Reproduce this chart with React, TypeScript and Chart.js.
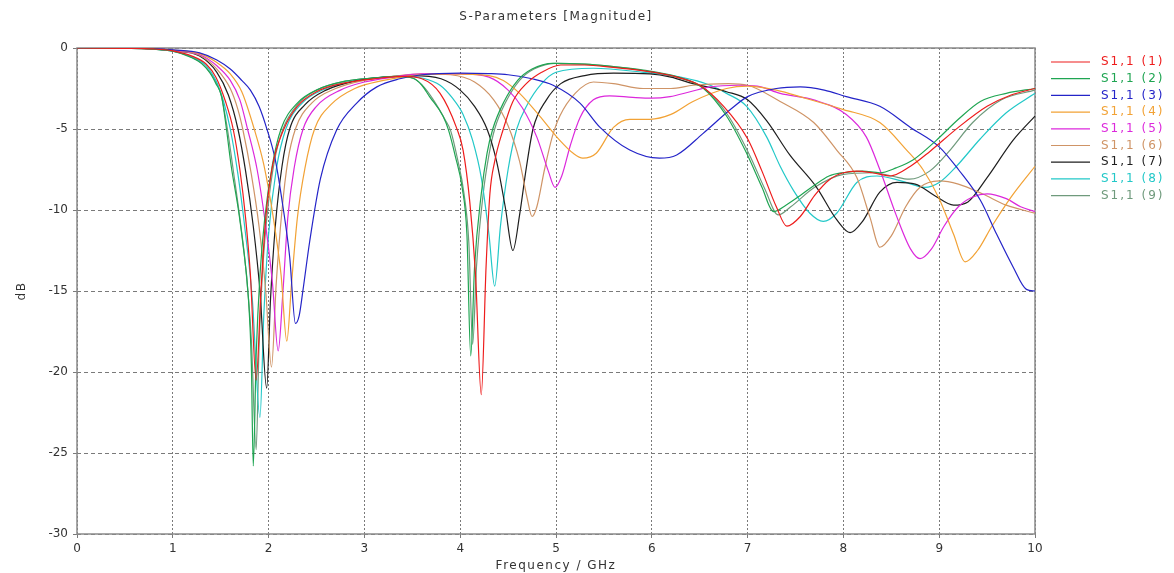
import React, { useEffect, useRef } from "react";
import { Chart, registerables } from "chart.js";

Chart.register(...registerables);

const TITLE = "S-Parameters [Magnitude]";
const X_TITLE = "Frequency / GHz";
const Y_TITLE = "dB";

const SERIES_LABELS = ["S1,1 (1)", "S1,1 (2)", "S1,1 (3)", "S1,1 (4)", "S1,1 (5)", "S1,1 (6)", "S1,1 (7)", "S1,1 (8)", "S1,1 (9)"];
const SERIES_COLORS = ["#ee1c1c", "#1fa552", "#2424c8", "#f2a235", "#dc28dc", "#cf9466", "#1e1e1e", "#22c8c8", "#6f9a7c"];

const FREQ_1 = [0, 0.5, 0.8, 1.0, 1.2, 1.35, 1.45, 1.55, 1.63, 1.7, 1.76, 1.81, 1.87, 1.92, 1.97, 2.04, 2.16, 2.3, 2.5, 2.8, 3.1, 3.4, 3.6, 3.79, 3.96, 4.03, 4.1, 4.16, 4.22, 4.27, 4.31, 4.36, 4.45, 4.55, 4.69, 4.85, 5.05, 5.3, 5.6, 5.9, 6.2, 6.5, 6.75, 7.0, 7.15, 7.3, 7.41, 7.55, 7.7, 7.86, 8.0, 8.14, 8.3, 8.49, 8.7, 8.9, 9.2, 9.5, 9.75, 10];
const DB_1 = [0, -0.02, -0.06, -0.18, -0.5, -1.0, -1.8, -3.3, -5.0, -7.5, -10.5, -14, -20.5, -15, -10.5, -7.3, -5.0, -3.6, -2.7, -2.15, -1.9, -1.75, -1.9, -2.8, -4.9, -6.3, -9.5, -14, -21.4, -13.5, -9.0, -7.0, -5.0, -3.3, -2.2, -1.5, -1.05, -1.05, -1.2, -1.4, -1.7, -2.3, -3.6, -5.6, -7.6, -9.8, -11.0, -10.4, -9.1, -8.1, -7.7, -7.6, -7.7, -7.9, -7.3, -6.4, -4.9, -3.6, -2.9, -2.5];

const FREQ_2 = [0, 0.5, 0.8, 1.0, 1.2, 1.3, 1.39, 1.45, 1.51, 1.56, 1.61, 1.68, 1.73, 1.79, 1.82, 1.84, 1.87, 1.91, 1.96, 2.04, 2.13, 2.3, 2.5, 2.8, 3.1, 3.35, 3.51, 3.6, 3.68, 3.82, 3.88, 3.95, 4.02, 4.07, 4.11, 4.15, 4.22, 4.28, 4.34, 4.45, 4.6, 4.75, 4.97, 5.3, 5.6, 5.91, 6.26, 6.54, 6.78, 6.99, 7.15, 7.27, 7.4, 7.55, 7.69, 7.85, 7.99, 8.2, 8.38, 8.55, 8.73, 8.97, 9.2, 9.43, 9.7, 10];
const DB_2 = [0, -0.02, -0.07, -0.2, -0.6, -0.95, -1.56, -2.2, -3.0, -5.0, -7.3, -9.8, -12, -15.5, -19.5, -25.8, -19, -14, -10.5, -7.2, -5.0, -3.4, -2.6, -2.05, -1.85, -1.75, -1.87, -2.3, -3.0, -4.2, -5.1, -6.7, -8.6, -11.5, -19, -13.5, -9.0, -6.5, -5.0, -3.4, -2.0, -1.3, -0.95, -1.0, -1.15, -1.36, -1.77, -2.5, -4.2, -6.5, -8.6, -10.1, -9.7, -9.1, -8.5, -7.9, -7.7, -7.6, -7.7, -7.4, -6.9, -5.7, -4.4, -3.3, -2.8, -2.5];

const FREQ_3 = [0, 0.5, 0.8, 1.0, 1.28, 1.46, 1.6, 1.72, 1.81, 1.9, 1.98, 2.07, 2.15, 2.22, 2.28, 2.32, 2.36, 2.43, 2.54, 2.71, 2.92, 3.13, 3.37, 3.6, 4.0, 4.3, 4.5, 4.75, 4.97, 5.25, 5.46, 5.77, 6.08, 6.26, 6.53, 6.82, 7.0, 7.3, 7.55, 7.8, 8.03, 8.38, 8.7, 9.0, 9.2, 9.43, 9.6, 9.77, 9.91, 10];
const DB_3 = [0, -0.01, -0.04, -0.12, -0.3, -0.74, -1.3, -2.0, -2.6, -3.6, -4.96, -6.9, -9.8, -12.9, -17.0, -16.5, -14.9, -11.9, -8.1, -5.06, -3.4, -2.4, -1.9, -1.65, -1.55, -1.58, -1.65, -1.9, -2.3, -3.4, -4.9, -6.3, -6.8, -6.6, -5.3, -3.8, -3.0, -2.5, -2.4, -2.6, -3.0, -3.6, -4.9, -6.1, -7.5, -9.4, -11.5, -13.5, -14.9, -15.0];

const FREQ_4 = [0, 0.5, 0.8, 1.0, 1.28, 1.46, 1.6, 1.72, 1.85, 1.95, 2.05, 2.13, 2.19, 2.24, 2.3, 2.38, 2.48, 2.65, 2.9, 3.2, 3.5, 3.9, 4.3, 4.45, 4.62, 4.83, 5.04, 5.18, 5.28, 5.42, 5.6, 5.77, 5.98, 6.2, 6.43, 6.78, 7.0, 7.3, 7.6, 8.0, 8.38, 8.66, 8.83, 9.0, 9.15, 9.27, 9.4, 9.55, 9.75, 10];
const DB_4 = [0, -0.01, -0.05, -0.13, -0.35, -0.9, -1.6, -2.7, -5.0, -7.2, -10.5, -14, -18.1, -14.5, -10.5, -7.4, -5.0, -3.5, -2.5, -2.0, -1.7, -1.6, -1.7, -2.0, -2.8, -4.2, -5.7, -6.5, -6.8, -6.5, -4.9, -4.4, -4.4, -4.1, -3.3, -2.5, -2.35, -2.6, -3.1, -3.8, -4.6, -6.3, -7.5, -9.3, -11.5, -13.2, -12.5, -11.0, -9.2, -7.3];

const FREQ_5 = [0, 0.5, 0.8, 1.0, 1.28, 1.46, 1.6, 1.7, 1.78, 1.88, 1.97, 2.04, 2.1, 2.15, 2.2, 2.27, 2.36, 2.5, 2.75, 3.0, 3.3, 3.6, 4.0, 4.3, 4.5, 4.65, 4.8, 4.92, 4.99, 5.06, 5.15, 5.25, 5.39, 5.56, 5.8, 6.0, 6.19, 6.4, 6.61, 6.9, 7.1, 7.34, 7.69, 8.03, 8.24, 8.38, 8.55, 8.7, 8.8, 8.92, 9.05, 9.2, 9.35, 9.5, 9.7, 9.85, 10];
const DB_5 = [0, -0.01, -0.05, -0.15, -0.4, -1.1, -2.0, -3.2, -5.0, -7.5, -11, -14.5, -18.7, -15, -10.5, -7.3, -5.0, -3.6, -2.6, -2.1, -1.8, -1.6, -1.6, -1.8, -2.6, -3.7, -5.5, -7.6, -8.6, -7.9, -6.0, -4.3, -3.2, -2.95, -3.05, -3.1, -3.0, -2.7, -2.4, -2.3, -2.35, -2.8, -3.2, -4.1, -5.5, -7.5, -10.3, -12.4, -13.0, -12.4, -11.0, -9.8, -9.2, -9.0, -9.3, -9.8, -10.1];

const FREQ_6 = [0, 0.5, 0.8, 1.0, 1.28, 1.46, 1.6, 1.68, 1.73, 1.82, 1.9, 1.97, 2.03, 2.08, 2.14, 2.2, 2.28, 2.45, 2.7, 3.0, 3.3, 3.6, 3.9, 4.15, 4.35, 4.5, 4.62, 4.7, 4.75, 4.8, 4.88, 4.96, 5.04, 5.2, 5.39, 5.6, 5.91, 6.2, 6.43, 6.8, 7.0, 7.34, 7.69, 7.93, 8.14, 8.28, 8.38, 8.5, 8.65, 8.8, 9.0, 9.2, 9.45, 9.7, 10];
const DB_6 = [0, -0.01, -0.05, -0.16, -0.45, -1.3, -2.5, -3.8, -5.0, -7.8, -11, -15, -19.7, -14.5, -10, -7.0, -5.0, -3.4, -2.5, -2.0, -1.75, -1.6, -1.65, -2.1, -3.2, -4.8, -7.0, -9.3, -10.4, -9.8, -7.5, -5.5, -4.2, -2.8, -2.1, -2.2, -2.5, -2.5, -2.3, -2.2, -2.3, -3.3, -4.6, -6.3, -8.0, -10.5, -12.3, -11.6, -9.8, -8.6, -8.2, -8.4, -9.0, -9.7, -10.2];

const FREQ_7 = [0, 0.5, 0.8, 1.0, 1.28, 1.46, 1.58, 1.68, 1.76, 1.84, 1.91, 1.98, 2.02, 2.07, 2.14, 2.22, 2.38, 2.6, 2.9, 3.2, 3.5, 3.8, 4.0, 4.15, 4.28, 4.38, 4.47, 4.55, 4.62, 4.69, 4.76, 4.9, 5.05, 5.3, 5.6, 5.98, 6.2, 6.43, 6.78, 7.0, 7.2, 7.44, 7.72, 7.93, 8.07, 8.2, 8.38, 8.56, 8.75, 8.95, 9.15, 9.3, 9.5, 9.77, 10];
const DB_7 = [0, -0.01, -0.06, -0.17, -0.5, -1.5, -2.9, -5.0, -7.6, -11, -15, -21.0, -15.5, -11, -7.3, -5.0, -3.5, -2.6, -2.05, -1.8, -1.7, -1.9, -2.6, -3.6, -5.0, -7.0, -9.8, -12.5, -10.3, -7.4, -5.0, -3.2, -2.2, -1.7, -1.55, -1.6, -1.8, -2.2, -2.7, -3.2, -4.5, -6.6, -8.6, -10.6, -11.4, -10.7, -8.9, -8.3, -8.4, -9.1, -9.7, -9.5, -8.0, -5.7, -4.2];

const FREQ_8 = [0, 0.5, 0.8, 1.0, 1.2, 1.35, 1.45, 1.53, 1.6, 1.68, 1.75, 1.83, 1.91, 1.95, 2.0, 2.08, 2.18, 2.35, 2.6, 2.9, 3.2, 3.45, 3.6, 3.79, 3.92, 4.03, 4.13, 4.22, 4.3, 4.36, 4.42, 4.5, 4.59, 4.7, 4.85, 5.0, 5.39, 5.91, 6.3, 6.61, 6.78, 6.99, 7.2, 7.34, 7.48, 7.65, 7.79, 7.93, 8.14, 8.35, 8.6, 8.85, 9.0, 9.18, 9.43, 9.7, 10];
const DB_8 = [0, -0.02, -0.07, -0.2, -0.55, -1.1, -2.0, -3.3, -5.0, -7.8, -11, -15.5, -22.8, -16.5, -11.5, -7.5, -5.0, -3.4, -2.5, -2.0, -1.8, -1.75, -1.85, -2.3, -3.1, -4.1, -5.7, -8.0, -11.5, -14.7, -11, -7.5, -5.0, -3.5, -2.2, -1.5, -1.25, -1.5, -1.8, -2.3, -2.8, -3.6, -5.5, -7.3, -8.8, -10.2, -10.7, -10.2, -8.3, -7.9, -8.2, -8.6, -8.3, -7.3, -5.6, -4.0, -2.8];

const FREQ_9 = [0, 0.5, 0.8, 1.0, 1.2, 1.3, 1.4, 1.5, 1.57, 1.63, 1.7, 1.76, 1.82, 1.87, 1.9, 1.94, 1.99, 2.06, 2.15, 2.3, 2.5, 2.8, 3.1, 3.35, 3.52, 3.62, 3.72, 3.84, 3.9, 3.97, 4.04, 4.09, 4.13, 4.17, 4.24, 4.3, 4.36, 4.47, 4.62, 4.77, 5.0, 5.3, 5.6, 5.91, 6.26, 6.55, 6.8, 7.02, 7.18, 7.32, 7.45, 7.7, 8.0, 8.3, 8.5, 8.69, 8.9, 9.1, 9.35, 9.65, 10];
const DB_9 = [0, -0.02, -0.07, -0.2, -0.58, -0.95, -1.6, -2.8, -5.0, -7.5, -10.5, -13.5, -18, -24.8, -18.5, -13.5, -10, -7.0, -5.0, -3.5, -2.6, -2.05, -1.85, -1.75, -1.9, -2.4, -3.2, -4.4, -5.1, -6.8, -9.0, -12, -18.3, -13.5, -9.0, -6.6, -5.0, -3.4, -2.0, -1.3, -0.95, -1.0, -1.15, -1.4, -1.8, -2.5, -4.2, -6.6, -8.7, -10.3, -9.8, -8.6, -7.8, -7.7, -7.9, -8.1, -7.6, -6.4, -4.6, -3.2, -2.6];

const FREQS = [FREQ_1, FREQ_2, FREQ_3, FREQ_4, FREQ_5, FREQ_6, FREQ_7, FREQ_8, FREQ_9];
const DBS = [DB_1, DB_2, DB_3, DB_4, DB_5, DB_6, DB_7, DB_8, DB_9];

const X_MIN = 0;
const X_MAX = 10;
const X_STEP = 1;
const Y_MIN = -30;
const Y_MAX = 0;
const Y_STEP = 5;

const FONT = '"DejaVu Sans", Verdana, sans-serif';

const decorPlugin = {
  id: "decor",
  beforeDatasetsDraw(chart: any) {
    const { ctx, chartArea } = chart;
    const { left, top, right, bottom } = chartArea;
    ctx.save();
    ctx.setLineDash([]);
    ctx.strokeStyle = "#8a8a8a";
    ctx.lineWidth = 1.5;
    ctx.strokeRect(left, top, right - left, bottom - top);
    ctx.restore();
  },
  afterDraw(chart: any) {
    const { ctx, chartArea } = chart;
    const { left, top, right, bottom } = chartArea;
    ctx.save();
    ctx.setLineDash([]);
    ctx.fillStyle = "#333";
    ctx.font = `12px ${FONT}`;
    (ctx as any).letterSpacing = "1.5px";
    ctx.textAlign = "center";
    ctx.textBaseline = "middle";
    ctx.fillText(TITLE, (left + right) / 2, 17);
    ctx.fillText(X_TITLE, (left + right) / 2, 566);
    ctx.save();
    ctx.translate(22, (top + bottom) / 2);
    ctx.rotate(-Math.PI / 2);
    ctx.fillText(Y_TITLE, 0, 0);
    ctx.restore();

    ctx.font = `12px ${FONT}`;
    (ctx as any).letterSpacing = "2px";
    ctx.textAlign = "left";
    chart.data.datasets.forEach((ds: any, i: number) => {
      const y = 62 + i * 16.7;
      ctx.strokeStyle = ds.borderColor;
      ctx.lineWidth = 1.2;
      ctx.beginPath();
      ctx.moveTo(1051, y);
      ctx.lineTo(1090, y);
      ctx.stroke();
      ctx.fillStyle = ds.borderColor;
      ctx.fillText(ds.label, 1101, y);
    });
    (ctx as any).letterSpacing = "0px";
    ctx.restore();
  },
};

export default function App() {
  const canvasRef = useRef<HTMLCanvasElement | null>(null);

  useEffect(() => {
    document.body.style.margin = "0";
    const canvas = canvasRef.current;
    if (!canvas) return;

    const datasets = SERIES_LABELS.map((label, s) => {
      const f = FREQS[s];
      const d = DBS[s];
      const n = Math.min(f.length, d.length);
      const pts = [];
      for (let i = 0; i < n; i++) pts.push({ x: f[i], y: d[i] });
      return {
        label,
        data: pts,
        borderColor: SERIES_COLORS[s],
        backgroundColor: SERIES_COLORS[s],
        borderWidth: 1.2,
        pointRadius: 0,
        fill: false,
        cubicInterpolationMode: "monotone" as const,
      };
    });

    const chart = new Chart(canvas, {
      type: "line",
      data: { datasets },
      options: {
        animation: false,
        responsive: false,
        maintainAspectRatio: false,
        layout: { padding: { left: 0, top: 48, right: 139, bottom: 0 } },
        plugins: {
          legend: { display: false },
          title: { display: false },
          tooltip: { enabled: false },
        },
        scales: {
          x: {
            type: "linear",
            min: X_MIN,
            max: X_MAX,
            afterFit: (scale: any) => {
              scale.height = 39;
            },
            ticks: {
              stepSize: X_STEP,
              color: "#333",
              font: { size: 12, family: FONT },
              padding: 4,
              maxRotation: 0,
            },
            grid: { color: "#7a7a7a", lineWidth: 1, tickLength: 4 },
            border: { display: false, dash: [2, 2] },
          },
          y: {
            type: "linear",
            min: Y_MIN,
            max: Y_MAX,
            afterFit: (scale: any) => {
              scale.width = 77;
            },
            ticks: {
              stepSize: Y_STEP,
              color: "#333",
              font: { size: 12, family: FONT },
              padding: 5,
            },
            grid: { color: "#7a7a7a", lineWidth: 1, tickLength: 4 },
            border: { display: false, dash: [4, 3] },
          },
        },
      },
      plugins: [decorPlugin],
    });

    return () => chart.destroy();
  }, []);

  return (
    <div style={{ position: "absolute", left: 0, top: 0, width: 1174, height: 573, background: "#fff" }}>
      <canvas ref={canvasRef} width={1174} height={573} />
    </div>
  );
}
